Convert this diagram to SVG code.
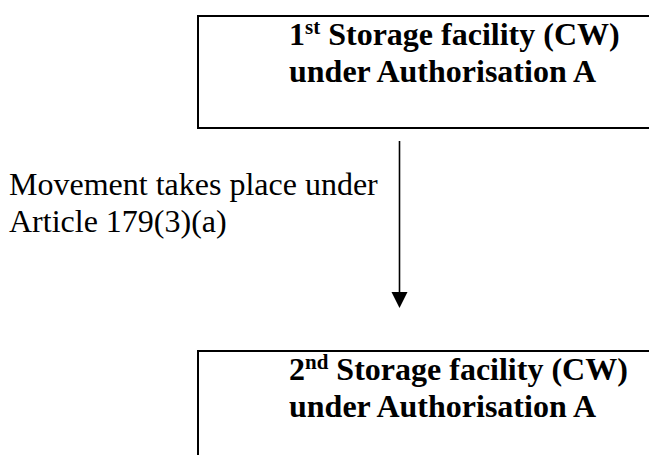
<svg xmlns="http://www.w3.org/2000/svg" width="649" height="455" viewBox="0 0 649 455">
<defs>
<style>
.box{fill:#fff;stroke:#000;stroke-width:2}
.t{font-family:"Liberation Serif","Times New Roman",serif;font-size:32px;fill:#000}
.b{font-weight:bold}
.sup{font-size:21px}
.conn{stroke:#000;stroke-width:1.6;fill:none}
</style>
</defs>
<rect width="649" height="455" fill="#fff"/>
<g id="node1">
<rect class="box" x="198" y="16" width="480" height="112"/>
<text class="t b" x="289" y="45">1<tspan class="sup" dy="-11">st</tspan><tspan dy="11"> Storage facility (CW)</tspan></text>
<text class="t b" x="289" y="82">under Authorisation A</text>
</g>
<g id="node2">
<rect class="box" x="198" y="351" width="480" height="140"/>
<text class="t b" x="289" y="380">2<tspan class="sup" dy="-11">nd</tspan><tspan dy="11"> Storage facility (CW)</tspan></text>
<text class="t b" x="289" y="417">under Authorisation A</text>
</g>
<g id="connectors">
<line class="conn" x1="399.5" y1="141" x2="399.5" y2="294"/>
<polygon points="391.5,292 407.5,292 399.5,308" fill="#000"/>
<text class="t" x="9" y="195">Movement takes place under</text>
<text class="t" x="9" y="232">Article 179(3)(a)</text>
</g>
</svg>
